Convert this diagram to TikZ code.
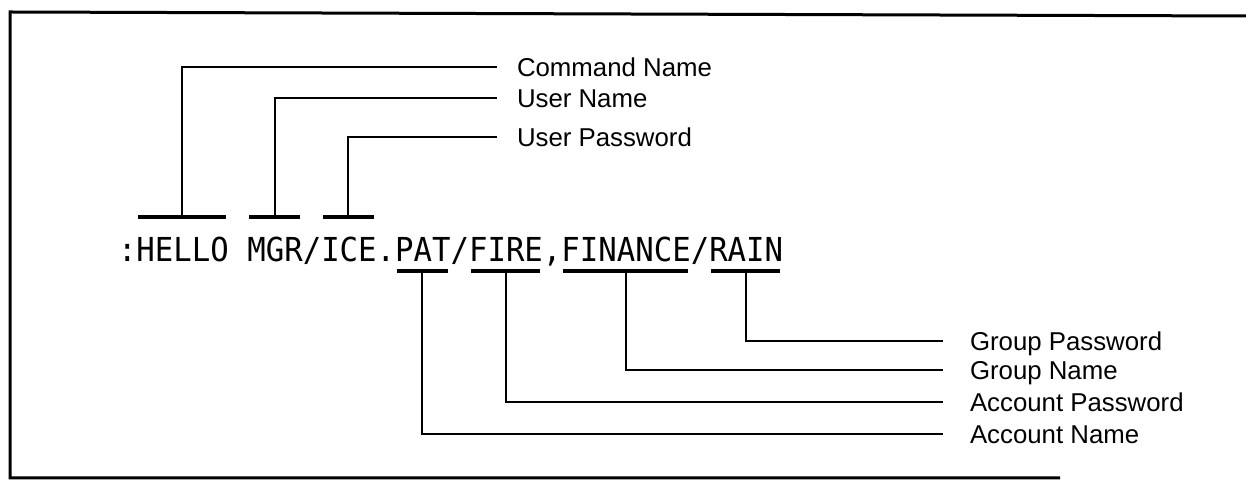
\documentclass[tikz,border=0pt]{standalone}
\usepackage{fontspec}
\usepackage{tikz}
\usetikzlibrary{calc,positioning}
\newfontfamily\cmdfont[FakeStretch=0.93]{DejaVu Sans Mono}
\newfontfamily\lblfont{Liberation Sans}

\begin{document}
\begin{tikzpicture}[x=0.5pt, y=0.5pt,
        cmd/.style={inner sep=0pt, outer sep=0pt,
                    font=\cmdfont\fontsize{16.5pt}{19pt}\selectfont},
        lbl/.style={anchor=west, inner sep=0pt, outer sep=0pt,
                    text height=9.1pt, text depth=0pt,
                    font=\lblfont\fontsize{12.9pt}{15pt}\selectfont},
        bar/.style={line width=2.2pt},
        lead/.style={line width=1pt},
        frame/.style={line width=1.5pt}]
        \useasboundingbox (0,0) rectangle (1246,481);
        \draw[frame] (1246,465) -- (10,469) -- (10,3) -- (1060,3);
        % the command line
        \node[cmd, anchor=base west] (colon) at (118,219) {:};
        \node[cmd, base right=0pt of colon]   (hello)   {HELLO};
        \node[cmd, base right=0pt of hello]   (gap)     {\phantom{X}};
        \node[cmd, base right=0pt of gap]     (mgr)     {MGR};
        \node[cmd, base right=0pt of mgr]     (slasha)  {/};
        \node[cmd, base right=0pt of slasha]  (ice)     {ICE};
        \node[cmd, base right=0pt of ice]     (dot)     {.};
        \node[cmd, base right=0pt of dot]     (pat)     {PAT};
        \node[cmd, base right=0pt of pat]     (slashb)  {/};
        \node[cmd, base right=0pt of slashb]  (fire)    {FIRE};
        \node[cmd, base right=0pt of fire]    (comma)   {,};
        \node[cmd, base right=0pt of comma]   (finance) {FINANCE};
        \node[cmd, base right=0pt of finance] (slashc)  {/};
        \node[cmd, base right=0pt of slashc]  (rain)    {RAIN};
        % labels
        \node[lbl] (cmdname) at (517,414) {Command Name};
        \node[lbl] (usrname) at (517,383) {User Name};
        \node[lbl] (usrpass) at (517,344) {User Password};
        \node[lbl] (grppass) at (970,140) {Group Password};
        \node[lbl] (grpname) at (970,111) {Group Name};
        \node[lbl] (accpass) at (970,79)  {Account Password};
        \node[lbl] (accname) at (970,47)  {Account Name};
        % bars over and under the fields
        \draw[bar] ($(hello.base west)+(2,45)$) -- coordinate (hellotop) ($(hello.base east)+(-3,45)$);
        \draw[bar] ($(mgr.base west)+(2,45)$)   -- coordinate (mgrtop)   ($(mgr.base east)+(-3,45)$);
        \draw[bar] ($(ice.base west)+(2,45)$)   -- coordinate (icetop)   ($(ice.base east)+(-3,45)$);
        \draw[bar] ($(pat.base west)+(2,-9)$)     -- coordinate (patbot)     ($(pat.base east)+(-3,-9)$);
        \draw[bar] ($(fire.base west)+(2,-9)$)    -- coordinate (firebot)    ($(fire.base east)+(-3,-9)$);
        \draw[bar] ($(finance.base west)+(2,-9)$) -- coordinate (financebot) ($(finance.base east)+(-3,-9)$);
        \draw[bar] ($(rain.base west)+(2,-9)$)    -- coordinate (rainbot)    ($(rain.base east)+(-3,-9)$);
        % leaders
        \draw[lead, shorten >=10pt] (hellotop) |- (cmdname);
        \draw[lead, shorten >=10pt] (mgrtop)   |- (usrname);
        \draw[lead, shorten >=10pt] (icetop)   |- (usrpass);
        \draw[lead, shorten >=13.5pt] (rainbot)    |- (grppass);
        \draw[lead, shorten >=13.5pt] (financebot) |- (grpname);
        \draw[lead, shorten >=13.5pt] (firebot)    |- (accpass);
        \draw[lead, shorten >=13.5pt] (patbot)     |- (accname);
\end{tikzpicture}
\end{document}
